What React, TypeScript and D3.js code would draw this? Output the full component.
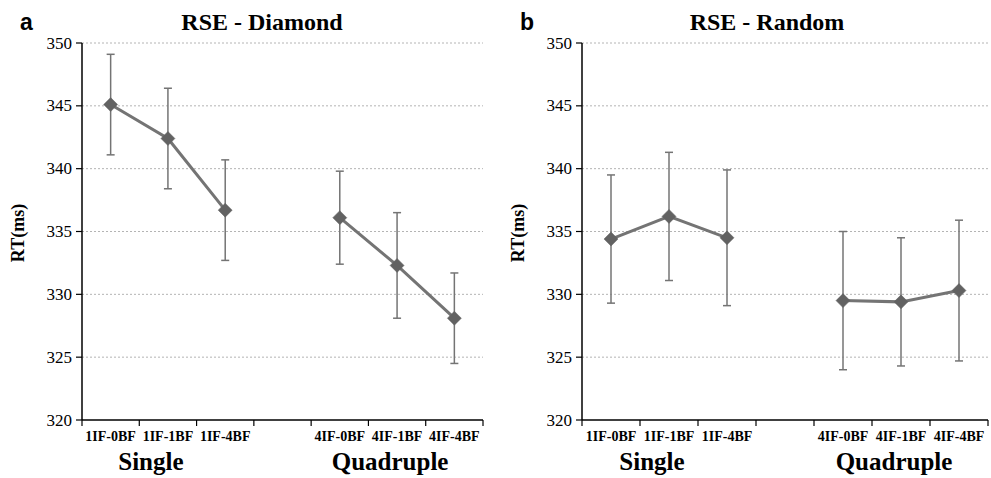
import * as d3 from "d3";

const categories = ["1IF-0BF", "1IF-1BF", "1IF-4BF", "", "4IF-0BF", "4IF-1BF", "4IF-4BF"];
const groupLabels = ["Single", "Quadruple"];
const yTicks = [320, 325, 330, 335, 340, 345, 350];

// RT means (ms) and half-width of error bars, order: 1IF-0BF, 1IF-1BF, 1IF-4BF, 4IF-0BF, 4IF-1BF, 4IF-4BF
const diamondMeans = [345.1, 342.4, 336.7, 336.1, 332.3, 328.1];
const diamondErr = [4.0, 4.0, 4.0, 3.7, 4.2, 3.6];
const randomMeans = [334.4, 336.2, 334.5, 329.5, 329.4, 330.3];
const randomErr = [5.1, 5.1, 5.4, 5.5, 5.1, 5.6];

const serif = { fontFamily: '"Liberation Serif", "Times New Roman", Times, serif' };
const sans = { fontFamily: '"Liberation Sans", Arial, sans-serif' };
const LINE = "#747474";
const MARK = "#626262";

interface PanelProps {
  letter: string;
  title: string;
  x0: number;
  x1: number;
  titleX: number;
  means: number[];
  errs: number[];
}

function Panel({ letter, title, x0, x1, titleX, means, errs }: PanelProps) {
  const top = 43;
  const bottom = 420;
  const y = d3.scaleLinear().domain([320, 350]).range([bottom, top]);
  const x = d3.scaleBand().domain(categories.map((c, i) => `${i}`)).range([x0, x1]).padding(0);
  const bw = x.bandwidth();
  const realIdx = categories.map((c, i) => i).filter((i) => categories[i] !== "");
  const pts = means.map((m, k) => ({
    cx: (x(`${realIdx[k]}`) || 0) + bw / 2,
    m,
    e: errs[k],
  }));
  const line = d3
    .line<{ cx: number; m: number }>()
    .x((d) => d.cx)
    .y((d) => y(d.m));
  const groups = [pts.slice(0, 3), pts.slice(3)];
  const diamond = (cx: number, cy: number, r: number) =>
    `M${cx},${cy - r}L${cx + r},${cy}L${cx},${cy + r}L${cx - r},${cy}Z`;
  const boundaries = d3.range(categories.length + 1).map((i) => x0 + i * bw);

  return (
    <g>
      <text x={x0 - 62} y={30} style={sans} fontWeight="bold" fontSize={23}>
        {letter}
      </text>
      <text x={titleX} y={30} textAnchor="middle" style={serif} fontWeight="bold" fontSize={24}>
        {title}
      </text>
      {yTicks.slice(1).map((t) => (
        <line key={`g${t}`} x1={x0} x2={x1} y1={y(t)} y2={y(t)} stroke="#b4b4b4" strokeWidth={1} strokeDasharray="2,2" />
      ))}
      {yTicks.map((t) => (
        <g key={`t${t}`}>
          <line x1={x0 - 6} x2={x0} y1={y(t)} y2={y(t)} stroke="#000" strokeWidth={1.2} />
          <text x={x0 - 10} y={y(t)} dy="0.33em" textAnchor="end" style={serif} fontSize={17}>
            {t}
          </text>
        </g>
      ))}
      <line x1={x0} x2={x0} y1={top} y2={bottom} stroke="#000" strokeWidth={1.5} />
      <line x1={x0} x2={x1} y1={bottom} y2={bottom} stroke="#000" strokeWidth={1.5} />
      {boundaries.map((bx, i) => (
        <line key={`xt${i}`} x1={bx} x2={bx} y1={bottom} y2={bottom + 6} stroke="#000" strokeWidth={1.2} />
      ))}
      {categories.map((c, i) =>
        c ? (
          <text key={`c${i}`} x={(x(`${i}`) || 0) + bw / 2} y={441} textAnchor="middle" style={serif} fontWeight="bold" fontSize={14}>
            {c}
          </text>
        ) : null,
      )}
      {groupLabels.map((g, gi) => {
        const a = x(`${gi === 0 ? 0 : 4}`) || 0;
        const cx = a + (3 * bw) / 2 - (gi === 0 ? 17 : 7);
        return (
          <text key={g} x={cx} y={470} textAnchor="middle" style={serif} fontWeight="bold" fontSize={25}>
            {g}
          </text>
        );
      })}
      <text
        transform={`translate(${x0 - 58},233) rotate(-90)`}
        textAnchor="middle"
        style={serif}
        fontWeight="bold"
        fontSize={18}
      >
        RT(ms)
      </text>
      {pts.map((p, i) => (
        <g key={`e${i}`} stroke={LINE} strokeWidth={1.5}>
          <line x1={p.cx} x2={p.cx} y1={y(p.m + p.e)} y2={y(p.m - p.e)} />
          <line x1={p.cx - 4} x2={p.cx + 4} y1={y(p.m + p.e)} y2={y(p.m + p.e)} />
          <line x1={p.cx - 4} x2={p.cx + 4} y1={y(p.m - p.e)} y2={y(p.m - p.e)} />
        </g>
      ))}
      {groups.map((gp, gi) => (
        <path key={`l${gi}`} d={line(gp) || ""} fill="none" stroke={LINE} strokeWidth={3} />
      ))}
      {pts.map((p, i) => (
        <path key={`m${i}`} d={diamond(p.cx, y(p.m), 7)} fill={MARK} stroke={MARK} strokeWidth={0.5} />
      ))}
    </g>
  );
}

export default function App() {
  return (
    <svg
      width={991}
      height={478}
      style={{ position: "absolute", left: 0, top: 0, background: "#fff" }}
    >
      <rect width={991} height={478} fill="#fff" />
      <Panel letter="a" title="RSE - Diamond" x0={82} x1={483} titleX={262} means={diamondMeans} errs={diamondErr} />
      <Panel letter="b" title="RSE - Random" x0={582} x1={988} titleX={767} means={randomMeans} errs={randomErr} />
    </svg>
  );
}
